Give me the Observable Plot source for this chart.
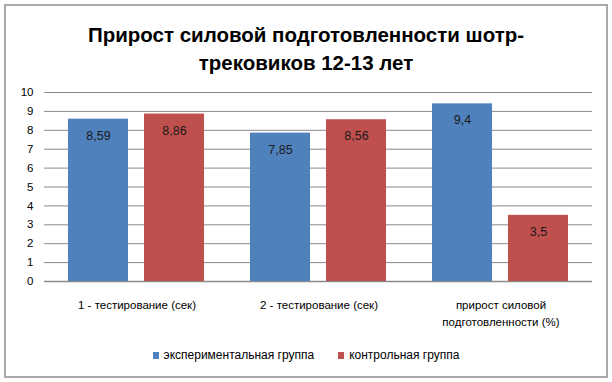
<!DOCTYPE html>
<html><head><meta charset="utf-8">
<script src="https://cdn.jsdelivr.net/npm/d3@7"></script>
<script src="https://cdn.jsdelivr.net/npm/@observablehq/plot@0.6"></script>
<style>
html,body{margin:0;padding:0;background:#fff;}
#frame{position:absolute;left:4px;top:4px;width:600px;height:370px;border:2px solid #a9a9a9;box-sizing:content-box;}
#title{position:absolute;left:0;top:21px;width:612px;text-align:center;font:bold 20.5px "Liberation Sans",Arial,sans-serif;line-height:28px;color:#000;}
#grid,#chart{position:absolute;left:0;top:80px;}
#legend{position:absolute;left:0;top:348px;width:612px;text-align:center;font:12px "Liberation Sans",Arial,sans-serif;color:#000;}
#legend span.sw{display:inline-block;width:6px;height:7px;margin-right:5px;vertical-align:0px;}
#legend span.it{margin:0 12px;}
</style></head>
<body>
<div id="frame"></div>
<div id="title">Прирост силовой подготовленности шотр-<br>трековиков 12-13 лет</div>
<div id="grid"></div>
<div id="chart"></div>
<div id="legend"></div>
<script>
const categories = ["1 - тестирование (сек)", "2 - тестирование (сек)", "прирост силовой\nподготовленности (%)"];
const groups = ["экспериментальная группа", "контрольная группа"];
const experimental = [8.59, 7.85, 9.4];
const control = [8.86, 8.56, 3.5];
const labelsExp = ["8,59", "7,85", "9,4"];
const labelsCtl = ["8,86", "8,56", "3,5"];
const yTicks = [0,1,2,3,4,5,6,7,8,9,10];
const colors = ["#4f81bd", "#c0504d"];

const data = [];
categories.forEach((c, i) => {
  data.push({cat: c, group: groups[0], value: experimental[i], label: labelsExp[i]});
  data.push({cat: c, group: groups[1], value: control[i], label: labelsCtl[i]});
});

const font = '"Liberation Sans", Arial, sans-serif';
const common = {
  width: 612,
  height: 260,
  marginTop: 12,
  marginBottom: 59,
  marginLeft: 44,
  marginRight: 20,
  style: {fontFamily: font, fontSize: "11px", color: "#000", background: "transparent"},
  y: {domain: [0, 10], label: null}
};

// background layer: gridlines and y axis spanning the whole plot area
const grid = Plot.plot({
  ...common,
  x: {domain: categories, axis: null},
  marks: [
    Plot.gridY(yTicks, {stroke: "#8a8a8a", strokeOpacity: 1, strokeWidth: 1}),
    Plot.ruleY([0], {stroke: "#8a8a8a", strokeWidth: 1.5}),
    Plot.axisY(yTicks, {tickSize: 0, tickPadding: 11, label: null, fontSize: 11.5})
  ]
});
document.getElementById("grid").appendChild(grid);

const plot = Plot.plot({
  ...common,
  fx: {domain: categories, paddingInner: 0.25, paddingOuter: 0.125, label: null},
  x: {domain: groups, paddingInner: 0.209, paddingOuter: 0, axis: null},
  y: {domain: [0, 10], label: null, axis: null},
  color: {domain: groups, range: colors},
  marks: [
    Plot.axisFx({anchor: "bottom", tickSize: 0, tickPadding: 16, label: null, fontSize: 11.5, lineHeight: 1.45}),
    Plot.barY(data, {fx: "cat", x: "group", y: "value", fill: "group"}),
    Plot.text(data, {fx: "cat", x: "group", y: "value", text: "label", dy: 16.5, fill: "#1a1a1a", fontSize: 12.5})
  ]
});
document.getElementById("chart").appendChild(plot);

const lg = document.getElementById("legend");
groups.forEach((g, i) => {
  const s = document.createElement("span");
  s.className = "it";
  s.innerHTML = `<span class="sw" style="background:${colors[i]}"></span>${g}`;
  lg.appendChild(s);
});
</script>
</body></html>
